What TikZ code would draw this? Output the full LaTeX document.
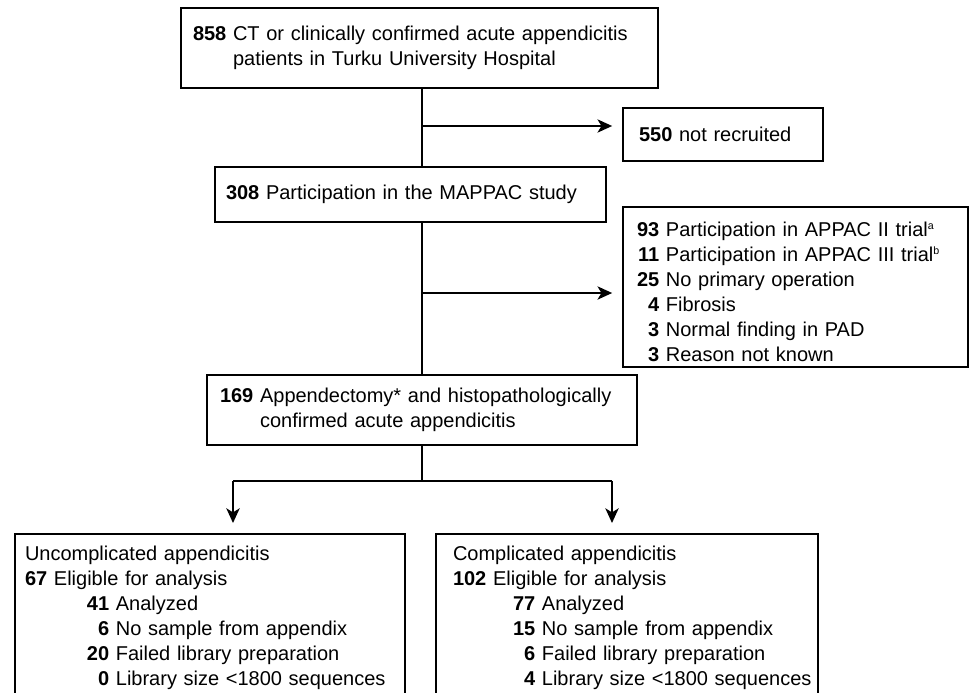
\documentclass[tikz,border=0pt]{standalone}
\usepackage{fontspec}
\setmainfont{Liberation Sans}
\usetikzlibrary{arrows.meta}

% number column, right aligned to two digits
\newcommand{\rnum}[1]{\makebox[1.112em][r]{\textbf{#1}}}

\begin{document}
\begin{tikzpicture}[x=0.75pt,y=0.75pt,yscale=-1,
  box/.style={draw, line width=1.3pt, align=left, inner ysep=0pt, font=\fontsize{15}{18.75}\selectfont},
  conn/.style={line width=1.2pt},
  arr/.style={conn, -{Stealth[length=11pt,width=10pt,inset=3pt]}, shorten >=7.5pt}]
%set diagram size to 969 x 692
\path[use as bounding box] (0,0) rectangle (969,692);
\clip (0,0) rectangle (969,692);

% Text Node
\node[box, text width=339.75pt, inner xsep=9pt, minimum height=60pt] (top) at (419.5,48)
  {\mbox{\textbf{858} CT or clinically confirmed acute appendicitis}\\\phantom{\textbf{858} }patients in Turku University Hospital};
% Text Node
\node[box, text width=126pt, inner xsep=12pt, minimum height=39.75pt] (n550) at (723,134.5)
  {\textbf{550} not recruited};
% Text Node
\node[box, text width=276.75pt, inner xsep=8.25pt, minimum height=41.25pt] (n308) at (410.5,194.5)
  {\textbf{308} Participation in the MAPPAC study};
% Text Node
\node[box, text width=237.75pt, inner xsep=10.5pt, minimum height=120pt] (excl) at (795.5,287)
  {\rule{0pt}{18.75pt}\rnum{93} Participation in APPAC II trial\textsuperscript{\footnotesize a}\\
   \mbox{\rnum{11} Participation in APPAC III trial\textsuperscript{\footnotesize b}}\\
   \rnum{25} No primary operation\\
   \rnum{4} Fibrosis\\
   \rnum{3} Normal finding in PAD\\
   \rnum{3} Reason not known};
% Text Node
\node[box, text width=303pt, inner xsep=9.75pt, minimum height=52.5pt] (n169) at (422,410)
  {\mbox{\textbf{169} Appendectomy* and histopathologically}\\\phantom{\textbf{169} }confirmed acute appendicitis};
% Text Node
\node[box, anchor=north, text width=277.5pt, inner xsep=7.5pt, inner ysep=9.3pt] (uncomp) at (210,533)
  {Uncomplicated appendicitis\\
   \textbf{67} Eligible for analysis\\
   \hspace*{46.5pt}\rnum{41} Analyzed\\
   \hspace*{46.5pt}\rnum{6} No sample from appendix\\
   \hspace*{46.5pt}\rnum{20} Failed library preparation\\
   \mbox{\hspace*{46.5pt}\rnum{0} Library size <1800 sequences}};
% Text Node
\node[box, anchor=north, text width=261pt, inner xsep=12.75pt, inner ysep=9.3pt] (comp) at (627,533)
  {Complicated appendicitis\\
   \textbf{102} Eligible for analysis\\
   \hspace*{45pt}\rnum{77} Analyzed\\
   \hspace*{45pt}\rnum{15} No sample from appendix\\
   \hspace*{45pt}\rnum{6} Failed library preparation\\
   \mbox{\hspace*{45pt}\rnum{4} Library size <1800 sequences}};

% branch points
\coordinate (b550) at (422,126);
\coordinate (bexc) at (422,293);
\coordinate (fork) at (422,481);
\coordinate (fl) at (233,481);
\coordinate (fr) at (612,481);

%Straight Lines
\draw[conn] (top.south -| b550) -- (n308.north -| b550);
\draw[arr] (b550) -- (n550.west |- b550);
%Straight Lines
\draw[conn] (n308.south -| bexc) -- (n169.north);
\draw[arr] (bexc) -- (excl.west |- bexc);
%Straight Lines
\draw[conn] (n169.south) -- (fork);
\draw[conn] (fl) -- (fr);
\draw[arr] (fl) -- (fl |- uncomp.north);
\draw[arr] (fr) -- (fr |- comp.north);

\end{tikzpicture}
\end{document}
